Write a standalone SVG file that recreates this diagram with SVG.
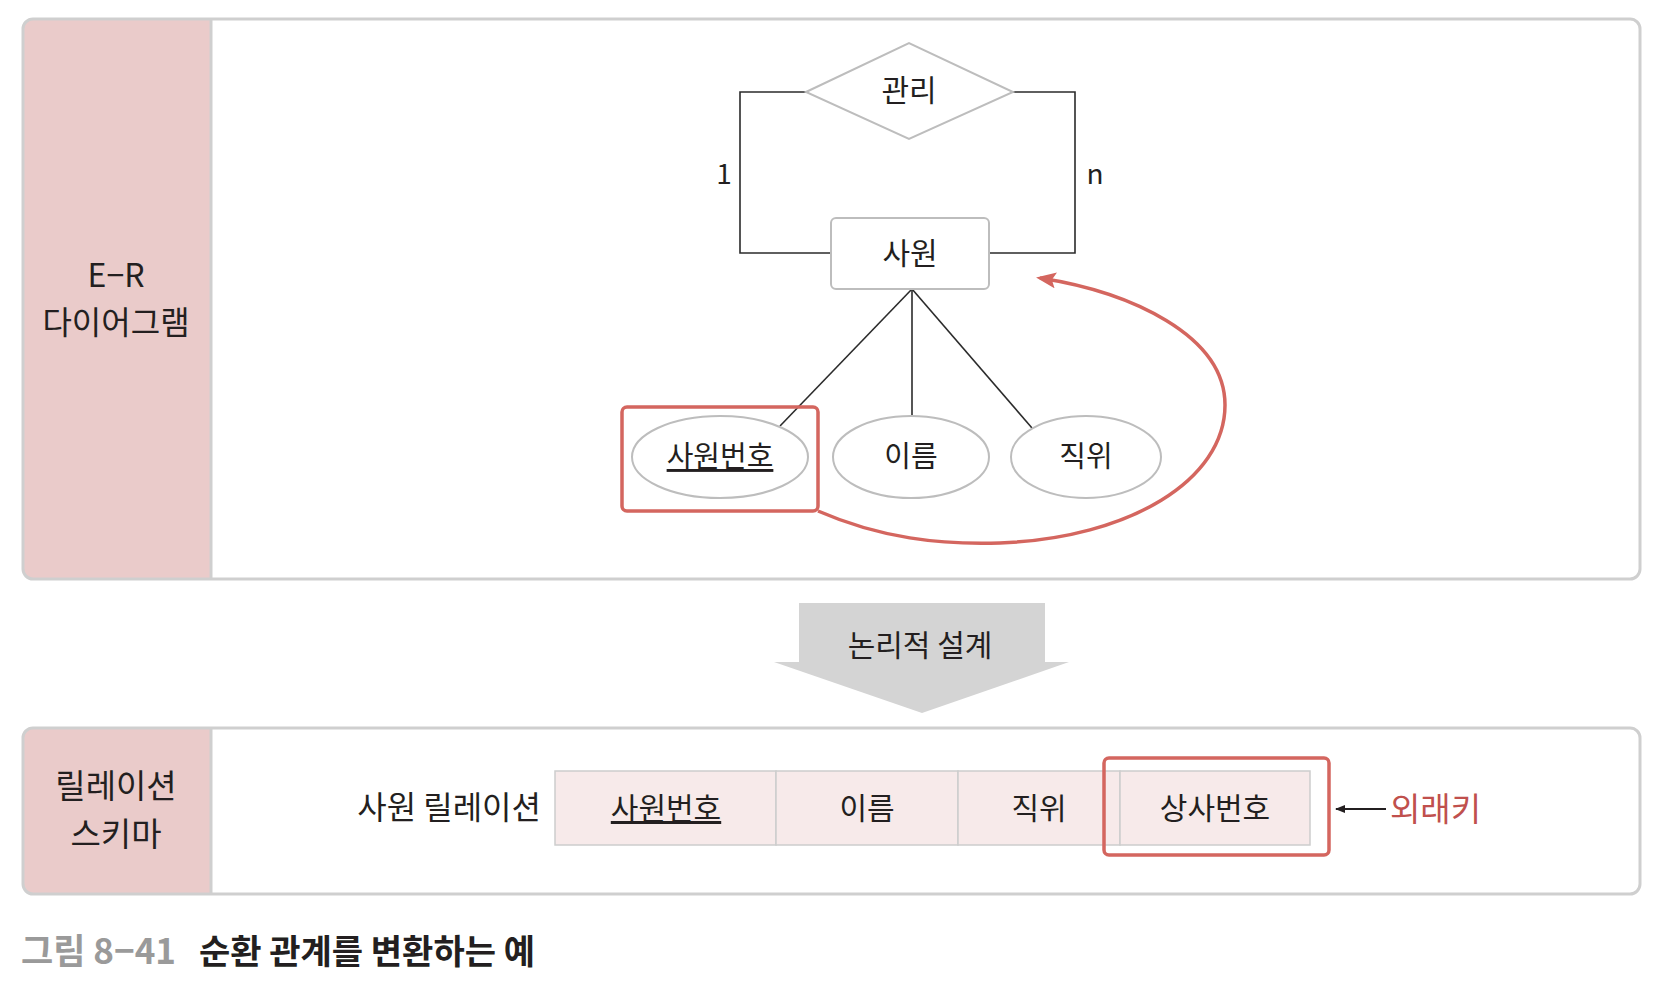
<svg xmlns="http://www.w3.org/2000/svg" width="1670" height="990" viewBox="0 0 1670 990">
<style>
.t{font-family:"Noto Sans CJK KR","Noto Sans",sans-serif;fill:#231f20;}
.panel{fill:none;stroke:#cfcfcf;stroke-width:3;}
.side{fill:#eacbca;}
.ln{stroke:#2b2b2b;stroke-width:1.6;fill:none;}
.shape{fill:#fff;stroke:#bdbdbd;stroke-width:2;}
.red{stroke:#d4665f;fill:none;stroke-width:3.5;}
.cell{fill:#f7eaea;stroke:#cdcdcd;stroke-width:1.5;}
</style>
<defs>
<marker id="ra" markerWidth="20" markerHeight="16" refX="16" refY="8" orient="auto" markerUnits="userSpaceOnUse">
<path d="M0,0 L20,8 L0,16 L4,8 Z" fill="#d4665f"/>
</marker>
<marker id="ka" markerWidth="10" markerHeight="10" refX="9" refY="5" orient="auto" markerUnits="userSpaceOnUse">
<path d="M0,1 L10,5 L0,9 Z" fill="#231f20"/>
</marker>
</defs>
<rect width="1670" height="990" fill="#fff"/>

<g id="panel-er">
<path class="side" d="M33,19 H210 V579 H33 Q23,579 23,569 V29 Q23,19 33,19 Z"/>
<rect class="panel" x="23" y="19" width="1617" height="560" rx="10"/>
<line x1="211" y1="20" x2="211" y2="578" stroke="#cfcfcf" stroke-width="3"/>
<text class="t" x="116" y="287" font-size="32" text-anchor="middle">E−R</text>
<text class="t" x="116" y="334" font-size="32" text-anchor="middle">다이어그램</text>
</g>

<g id="connectors">
<polyline class="ln" points="806,92 740,92 740,253 831,253"/>
<polyline class="ln" points="1013,92 1075,92 1075,253 989,253"/>
<line class="ln" x1="912" y1="289" x2="780" y2="426"/>
<line class="ln" x1="912" y1="289" x2="912" y2="415"/>
<line class="ln" x1="912" y1="289" x2="1032" y2="428"/>
<path class="red" d="M818,511 C880,538 940,545 1000,543 C1130,538 1225,480 1225,405 C1225,335 1130,292 1040,278" marker-end="url(#ra)"/>
</g>

<g id="rel-manage">
<polygon class="shape" points="806,92 909,43 1013,92 909,139"/>
<text class="t" x="909" y="101" font-size="30" text-anchor="middle">관리</text>
</g>
<text class="t" x="724" y="184" font-size="28" text-anchor="middle">1</text>
<text class="t" x="1095" y="184" font-size="28" text-anchor="middle">n</text>

<g id="entity-employee">
<rect class="shape" x="831" y="218" width="158" height="71" rx="5"/>
<text class="t" x="910" y="264" font-size="30" text-anchor="middle">사원</text>
</g>

<g id="attr-empno">
<ellipse class="shape" cx="720" cy="457" rx="88" ry="41"/>
<text class="t" x="720" y="467" font-size="29" text-anchor="middle" text-decoration="underline">사원번호</text>
<rect class="red" x="622" y="407" width="196" height="104" rx="5"/>
</g>
<g id="attr-name">
<ellipse class="shape" cx="911" cy="457" rx="78" ry="41"/>
<text class="t" x="911" y="467" font-size="29" text-anchor="middle">이름</text>
</g>
<g id="attr-title">
<ellipse class="shape" cx="1086" cy="457" rx="75" ry="41"/>
<text class="t" x="1086" y="467" font-size="29" text-anchor="middle">직위</text>
</g>

<g id="transform-arrow">
<path d="M799,603 H1045 V662 H1069 L922,713 L774,662 H799 Z" fill="#d4d4d4"/>
<text class="t" x="920" y="656" font-size="30" text-anchor="middle">논리적 설계</text>
</g>

<g id="panel-schema">
<path class="side" d="M33,728 H210 V894 H33 Q23,894 23,884 V738 Q23,728 33,728 Z"/>
<rect class="panel" x="23" y="728" width="1617" height="166" rx="10"/>
<line x1="211" y1="729" x2="211" y2="893" stroke="#cfcfcf" stroke-width="3"/>
<text class="t" x="116" y="798" font-size="33" text-anchor="middle">릴레이션</text>
<text class="t" x="116" y="846" font-size="33" text-anchor="middle">스키마</text>
</g>

<g id="relation-table">
<text class="t" x="541" y="819" font-size="32" text-anchor="end">사원 릴레이션</text>
<rect class="cell" x="555" y="771" width="221" height="74"/>
<rect class="cell" x="776" y="771" width="182" height="74"/>
<rect class="cell" x="958" y="771" width="162" height="74"/>
<rect class="cell" x="1120" y="771" width="190" height="74"/>
<text class="t" x="666" y="819" font-size="30" text-anchor="middle" text-decoration="underline">사원번호</text>
<text class="t" x="867" y="819" font-size="30" text-anchor="middle">이름</text>
<text class="t" x="1039" y="819" font-size="30" text-anchor="middle">직위</text>
<text class="t" x="1215" y="819" font-size="30" text-anchor="middle">상사번호</text>
<rect class="red" x="1104" y="758" width="225" height="97" rx="5"/>
</g>

<g id="fk-label">
<line x1="1386" y1="809" x2="1336" y2="809" stroke="#231f20" stroke-width="1.8" marker-end="url(#ka)"/>
<text class="t" x="1390" y="821" font-size="33" style="fill:#c0504d">외래키</text>
</g>

<g id="caption">
<text x="21" y="964" font-size="35" font-weight="bold" font-family="'Noto Sans CJK KR','Noto Sans',sans-serif" fill="#9a9a9a">그림 8−41</text>
<text class="t" x="199" y="964" font-size="34" font-weight="bold">순환 관계를 변환하는 예</text>
</g>
</svg>
